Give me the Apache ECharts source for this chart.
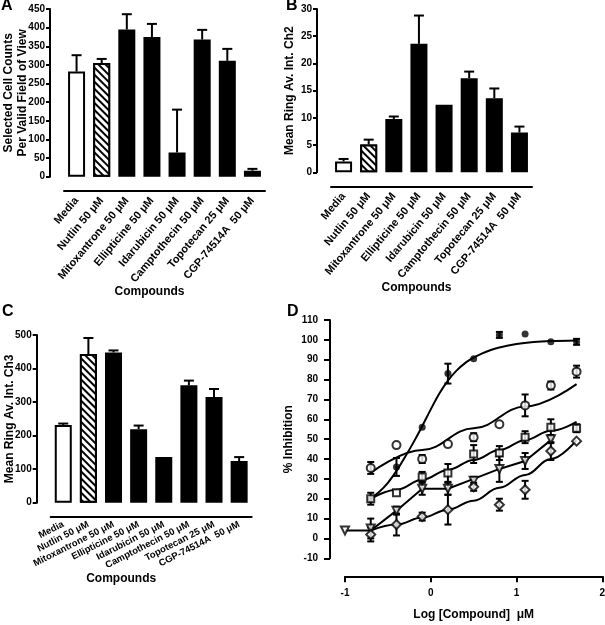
<!DOCTYPE html>
<html><head><meta charset="utf-8">
<script src="https://cdn.jsdelivr.net/npm/echarts@6/dist/echarts.min.js"></script>
<style>html,body{margin:0;padding:0;background:#fff}#c{width:605px;height:625px}</style>
</head><body><div id="c"></div>
<script>
// ---------- data ----------
const categories = ['Media','Nutlin 50 μM','Mitoxantrone 50 μM','Ellipticine 50 μM','Idarubicin 50 μM','Camptothecin 50 μM','Topotecan 25 μM','CGP-74514A  50 μM'];
const cellCounts    = [282, 305, 395, 375, 65, 368, 311, 16];
const cellCountsErr = [44, 11, 41, 35, 115, 26, 32, 5];
const ch2Intensity  = [2.0, 5.1, 9.8, 23.6, 12.4, 17.3, 13.6, 7.3];
const ch2Err        = [0.45, 0.9, 0.45, 5.2, 0, 1.2, 1.8, 1.1];
const ch3Intensity  = [232, 443, 448, 219, 136, 350, 315, 124];
const ch3Err        = [4, 48, 6, 11, 0, 14, 24, 12];
const ticksA = [0, 450, 50];
const ticksB = [0, 30, 5];
const ticksC = [0, 500, 100];
const ticksDy = [-10, 110, 10];
const ticksDx = [-1, 2, 1];

const doseLog = [-0.7, -0.4, -0.1, 0.2, 0.5, 0.8, 1.1, 1.4, 1.7];
const filledMean = [19.5, 36, 56, 83, 90.5, 102.5, 103, 99, 99];
const filledErr  = [0, 4.5, 0, 5, 0, 1.5, 0, 0, 1.5];
const circleMean = [35.5, 47, 40, 47.5, 51, 57.5, 67, 77, 84];
const circleErr  = [3, 0, 2, 0, 2, 0, 5.5, 2, 3];
const squareMean = [20, 23, 31, 33, 42.5, 43, 51, 56, 55.5];
const squareErr  = [3, 0, 2.5, 4.5, 4.5, 3.5, 3, 4, 2];
const triDose = [-1, -0.7, -0.4, -0.1, 0.2, 0.5, 0.8, 1.1, 1.4];
const triMean = [4, 5, 14, 25, 25, 29, 35, 39, 50];
const triErr  = [0, 5, 2, 3, 3, 2, 6.5, 4, 2];
const diamondMean = [2, 7, 11, 14.5, 26, 17, 24.5, 44, 49];
const diamondErr  = [3.5, 5.5, 2, 7.5, 2, 3, 4.5, 4.5, 0];

const filledCurve  = [[-0.7,20],[-0.6,23.5],[-0.5,28],[-0.4,34],[-0.3,41],[-0.2,48.5],[-0.1,56.5],[0,65],[0.1,73],[0.2,79.5],[0.3,84.5],[0.4,88.3],[0.5,91],[0.6,93.2],[0.7,94.9],[0.8,96.2],[1.0,97.9],[1.2,98.9],[1.4,99.4],[1.7,99.7]];
const circleCurve  = [[-0.7,33],[-0.1,44.5],[0.5,55.5],[1.1,66.5],[1.7,77.7]];
const squareCurve  = [[-0.7,20],[-0.4,24.5],[-0.1,29.5],[0.2,34.5],[0.5,39.5],[0.8,44.5],[1.1,49.5],[1.4,54.2],[1.7,58.7]];
const triangleLine = [[-1,4],[-0.7,4],[-0.4,14],[-0.1,25],[0.2,25],[0.5,30],[0.8,35],[1.1,39],[1.4,49.5]];
const diamondCurve = [[-0.7,4],[-0.4,7],[-0.1,10.5],[0.2,14.5],[0.5,19],[0.8,25.5],[1.1,32],[1.4,40],[1.7,49.5]];

// ---------- styling helpers ----------
const FONT = "'Liberation Sans', Arial, Helvetica, sans-serif";
const K = '#000';
const hatch = { symbol:'rect', symbolSize:1, dashArrayX:[1,0], dashArrayY:[1.6,2.8], rotation:Math.PI/4, color:'#000', backgroundColor:'#fff' };

function barData(vals){
  return vals.map((v,i)=>{
    const item = { value:v, itemStyle:{ color:K, borderColor:K, borderWidth:2 } };
    if (i===0) item.itemStyle.color = '#fff';
    if (i===1) { item.itemStyle.color = '#fff'; item.itemStyle.decal = hatch; }
    return item;
  });
}
function upErrRender(params, api){
  const e = api.value(2);
  if (!e) return null;
  const i = api.value(0), m = api.value(1);
  const a = api.coord([i, m]), b = api.coord([i, m+e]);
  const w = 5;
  return { type:'group', children:[
    { type:'line', shape:{x1:a[0],y1:a[1],x2:b[0],y2:b[1]}, style:{stroke:K,lineWidth:2} },
    { type:'line', shape:{x1:b[0]-w,y1:b[1],x2:b[0]+w,y2:b[1]}, style:{stroke:K,lineWidth:2} }
  ]};
}
function bothErrRender(params, api){
  const e = api.value(2);
  if (!e) return null;
  const x = api.value(0), m = api.value(1);
  const a = api.coord([x, m-e]), b = api.coord([x, m+e]);
  const w = 3.5;
  return { type:'group', children:[
    { type:'line', shape:{x1:a[0],y1:a[1],x2:b[0],y2:b[1]}, style:{stroke:K,lineWidth:2} },
    { type:'line', shape:{x1:b[0]-w,y1:b[1],x2:b[0]+w,y2:b[1]}, style:{stroke:K,lineWidth:2} },
    { type:'line', shape:{x1:a[0]-w,y1:a[1],x2:a[0]+w,y2:a[1]}, style:{stroke:K,lineWidth:2} }
  ]};
}
function catAxis(gi, rotate, fs, margin, namePad, nameGap){
  return { type:'category', gridIndex:gi, data:categories, offset:14,
    axisLine:{onZero:false, lineStyle:{color:K,width:2}},
    axisTick:{alignWithLabel:true, length:5, lineStyle:{color:K,width:2}},
    axisLabel:{interval:0, rotate:rotate, margin:margin, color:K, fontFamily:FONT, fontWeight:'bold', fontSize:fs},
    name:'Compounds', nameLocation:'middle', nameGap:nameGap, nameMoveOverlap:false,
    nameTextStyle:{color:K, fontFamily:FONT, fontWeight:'bold', fontSize:12, padding:namePad} };
}
function valAxis(gi, t, name, gap, extra){
  return Object.assign({ type:'value', gridIndex:gi, min:t[0], max:t[1], interval:t[2], offset:14,
    axisLine:{show:true, onZero:false, lineStyle:{color:K,width:2}},
    axisTick:{show:true, length:4, lineStyle:{color:K,width:2}},
    splitLine:{show:false},
    axisLabel:{margin:5, color:K, fontFamily:FONT, fontWeight:'bold', fontSize:10},
    name:name, nameLocation:'middle', nameGap:gap, nameMoveOverlap:false,
    nameTextStyle:{color:K, fontFamily:FONT, fontWeight:'bold', fontSize:12, lineHeight:14} }, extra||{});
}
function errData(vals, errs){ return vals.map((v,i)=>[i, v, errs[i]]); }
function xyErr(xs, ms, es){ return xs.map((x,i)=>[x, ms[i], es[i]]); }

const lineBase = { type:'line', xAxisIndex:3, yAxisIndex:3, showSymbol:false, symbol:'none',
  lineStyle:{color:K, width:2}, z:2, silent:true };

const option = {
  animation:false,
  backgroundColor:'#fff',
  title:[
    {text:'A', left:1, top:-2, padding:0, textStyle:{fontFamily:FONT, fontSize:16, fontWeight:'bold', color:K}},
    {text:'B', left:286, top:-2, padding:0, textStyle:{fontFamily:FONT, fontSize:16, fontWeight:'bold', color:K}},
    {text:'C', left:2, top:304, padding:0, textStyle:{fontFamily:FONT, fontSize:16, fontWeight:'bold', color:K}},
    {text:'D', left:287, top:304, padding:0, textStyle:{fontFamily:FONT, fontSize:16, fontWeight:'bold', color:K}}
  ],
  grid:[
    {left:64, top:9, width:201, height:167.7, outerBoundsMode:'none'},
    {left:331, top:9, width:201, height:163.3, outerBoundsMode:'none'},
    {left:50.7, top:335, width:201, height:167.7, outerBoundsMode:'none'},
    {left:345, top:320, width:257.3, height:238.3, outerBoundsMode:'none'}
  ],
  xAxis:[
    catAxis(0, 50, 11, 8, [0,30,0,0], 95),
    catAxis(1, 50, 11, 8, [0,30,0,0], 95),
    catAxis(2, 27, 9.5, 7, [0,60,0,0], 56),
    { type:'value', gridIndex:3, min:ticksDx[0], max:ticksDx[1], interval:ticksDx[2], offset:18,
      axisLine:{onZero:false, lineStyle:{color:K,width:2}},
      axisTick:{length:6, lineStyle:{color:K,width:2}},
      splitLine:{show:false},
      axisLabel:{margin:12, color:K, fontFamily:FONT, fontWeight:'bold', fontSize:10},
      name:'Log [Compound]  μM', nameLocation:'middle', nameGap:32, nameMoveOverlap:false,
      nameTextStyle:{color:K, fontFamily:FONT, fontWeight:'bold', fontSize:12} }
  ],
  yAxis:[
    valAxis(0, ticksA, 'Selected Cell Counts\nPer Valid Field of View', 20),
    valAxis(1, ticksB, 'Mean Ring Av. Int. Ch2', 20),
    valAxis(2, ticksC, 'Mean Ring Av. Int. Ch3', 20),
    valAxis(3, ticksDy, '% Inhibition', 34, {offset:15, axisTick:{show:true,length:6,lineStyle:{color:K,width:2}}, axisLabel:{margin:12, color:K, fontFamily:FONT, fontWeight:'bold', fontSize:10}})
  ],
  series:[
    { type:'bar', xAxisIndex:0, yAxisIndex:0, barWidth:17, data:barData(cellCounts), silent:true },
    { type:'custom', xAxisIndex:0, yAxisIndex:0, renderItem:upErrRender, data:errData(cellCounts, cellCountsErr), encode:{x:0,y:1}, z:3, silent:true },
    { type:'bar', xAxisIndex:1, yAxisIndex:1, barWidth:17, data:barData(ch2Intensity), silent:true },
    { type:'custom', xAxisIndex:1, yAxisIndex:1, renderItem:upErrRender, data:errData(ch2Intensity, ch2Err), encode:{x:0,y:1}, z:3, silent:true },
    { type:'bar', xAxisIndex:2, yAxisIndex:2, barWidth:17, data:barData(ch3Intensity), silent:true },
    { type:'custom', xAxisIndex:2, yAxisIndex:2, renderItem:upErrRender, data:errData(ch3Intensity, ch3Err), encode:{x:0,y:1}, z:3, silent:true },

    Object.assign({}, lineBase, { data:filledCurve, smooth:0.3 }),
    Object.assign({}, lineBase, { data:circleCurve, smooth:0.4, smoothMonotone:'x' }),
    Object.assign({}, lineBase, { data:squareCurve, smooth:0.4, smoothMonotone:'x' }),
    Object.assign({}, lineBase, { data:triangleLine, smooth:false }),
    Object.assign({}, lineBase, { data:diamondCurve, smooth:0.4, smoothMonotone:'x' }),

    { type:'custom', xAxisIndex:3, yAxisIndex:3, renderItem:bothErrRender, data:xyErr(doseLog, filledMean, filledErr), encode:{x:0,y:1}, z:4, silent:true },
    { type:'custom', xAxisIndex:3, yAxisIndex:3, renderItem:bothErrRender, data:xyErr(doseLog, circleMean, circleErr), encode:{x:0,y:1}, z:4, silent:true },
    { type:'custom', xAxisIndex:3, yAxisIndex:3, renderItem:bothErrRender, data:xyErr(doseLog, squareMean, squareErr), encode:{x:0,y:1}, z:4, silent:true },
    { type:'custom', xAxisIndex:3, yAxisIndex:3, renderItem:bothErrRender, data:xyErr(triDose, triMean, triErr), encode:{x:0,y:1}, z:4, silent:true },
    { type:'custom', xAxisIndex:3, yAxisIndex:3, renderItem:bothErrRender, data:xyErr(doseLog, diamondMean, diamondErr), encode:{x:0,y:1}, z:4, silent:true },

    { type:'scatter', xAxisIndex:3, yAxisIndex:3, symbol:'circle', symbolSize:7, itemStyle:{color:K}, data:doseLog.map((x,i)=>[x, filledMean[i]]), z:5, silent:true },
    { type:'scatter', xAxisIndex:3, yAxisIndex:3, symbol:'circle', symbolSize:8, itemStyle:{color:'#fff', borderColor:K, borderWidth:2}, data:doseLog.map((x,i)=>[x, circleMean[i]]), z:5, silent:true },
    { type:'scatter', xAxisIndex:3, yAxisIndex:3, symbol:'rect', symbolSize:7, itemStyle:{color:'#fff', borderColor:K, borderWidth:2}, data:doseLog.map((x,i)=>[x, squareMean[i]]), z:5, silent:true },
    { type:'scatter', xAxisIndex:3, yAxisIndex:3, symbol:'triangle', symbolRotate:180, symbolSize:8, itemStyle:{color:'#fff', borderColor:K, borderWidth:2}, data:triDose.map((x,i)=>[x, triMean[i]]), z:5, silent:true },
    { type:'scatter', xAxisIndex:3, yAxisIndex:3, symbol:'diamond', symbolSize:9, itemStyle:{color:'#fff', borderColor:K, borderWidth:2}, data:doseLog.map((x,i)=>[x, diamondMean[i]]), z:5, silent:true }
  ]
};
const chart = echarts.init(document.getElementById('c'), null, {renderer:'canvas'});
chart.setOption(option);
</script>
</body></html>
